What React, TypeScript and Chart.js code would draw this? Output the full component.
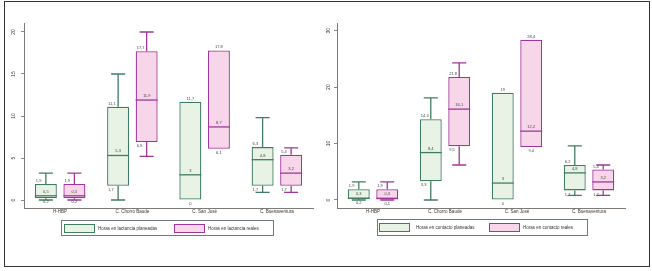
import React, { useEffect, useRef } from "react";
import { Chart, registerables } from "chart.js";

Chart.register(...registerables);

const categories = ["H-HBP", "C. Chorro Baude", "C. San José", "C. Buenaventura"];

// Left panel: lactancia
const lactPlanMin = [0, 0, 0, 0.9];
const lactPlanQ1 = [0.2, 1.7, 0, 1.7];
const lactPlanMed = [0.5, 5.3, 3, 4.8];
const lactPlanQ3 = [1.9, 11.1, 11.7, 6.3];
const lactPlanMax = [3.2, 15, 11.7, 9.8];

const lactRealMin = [0, 5.2, 6.1, 0.9];
const lactRealQ1 = [0.2, 6.9, 6.1, 1.7];
const lactRealMed = [0.5, 11.9, 8.7, 3.2];
const lactRealQ3 = [1.9, 17.7, 17.8, 5.4];
const lactRealMax = [3.2, 20, 17.8, 6.2];

// Right panel: contacto
const contPlanMin = [0, 0, 0, 0.8];
const contPlanQ1 = [0.2, 3.3, 0, 1.7];
const contPlanMed = [0.3, 8.4, 3, 4.8];
const contPlanQ3 = [1.9, 14.3, 19, 6.2];
const contPlanMax = [3.2, 18.1, 19, 9.6];

const contRealMin = [0, 6.2, 9.4, 0.8];
const contRealQ1 = [0.1, 9.5, 9.4, 1.7];
const contRealMed = [0.3, 16.1, 12.2, 3.2];
const contRealQ3 = [1.9, 21.8, 28.4, 5.4];
const contRealMax = [3.2, 24.3, 28.4, 6.2];

const leftTicks = [0, 5, 10, 15, 20];
const rightTicks = [0, 10, 20, 30];

const leftLegend = ["Horas en lactancia planeadas", "Horas en lactancia reales"];
const rightLegend = ["Horas en contacto planeadas", "Horas en contacto reales"];

const GREEN = "#3f7d62";
const GREEN_FILL = "#e9f3e5";
const PINK = "#a1369a";
const PINK_FILL = "#f8d6ea";
const FONT = "'Liberation Sans', Arial, sans-serif";

type Stat = { min: number[]; q1: number[]; med: number[]; q3: number[]; max: number[]; color: string; fill: string };

const fmt = (v: number) => String(v).replace(".", ",");

function makePlugin(stats: Stat[], ticks: number[], tickX: number) {
  return {
    id: "boxes",
    afterDatasetsDraw(chart: any) {
      const ctx = chart.ctx as CanvasRenderingContext2D;
      const ys = chart.scales.y;
      const xs = chart.scales.x;
      ctx.save();
      stats.forEach((s, di) => {
        const meta = chart.getDatasetMeta(di);
        meta.data.forEach((bar: any, i: number) => {
          const x = bar.x;
          const w = bar.width;
          const left = x - w / 2;
          const yq1 = ys.getPixelForValue(s.q1[i]);
          const yq3 = ys.getPixelForValue(s.q3[i]);
          const ymed = ys.getPixelForValue(s.med[i]);
          const ymin = ys.getPixelForValue(s.min[i]);
          const ymax = ys.getPixelForValue(s.max[i]);
          ctx.strokeStyle = s.color;
          ctx.lineWidth = 1.3;
          const cap = w * 0.32;
          if (s.max[i] > s.q3[i]) {
            ctx.beginPath();
            ctx.moveTo(x, yq3);
            ctx.lineTo(x, ymax);
            ctx.moveTo(x - cap, ymax);
            ctx.lineTo(x + cap, ymax);
            ctx.stroke();
          }
          if (s.min[i] < s.q1[i]) {
            ctx.beginPath();
            ctx.moveTo(x, yq1);
            ctx.lineTo(x, ymin);
            ctx.moveTo(x - cap, ymin);
            ctx.lineTo(x + cap, ymin);
            ctx.stroke();
          }
          ctx.beginPath();
          ctx.moveTo(left, ymed);
          ctx.lineTo(left + w, ymed);
          ctx.stroke();

          ctx.fillStyle = "#444";
          ctx.font = `4px ${FONT}`;
          ctx.textBaseline = "alphabetic";
          const topWh = s.max[i] > s.q3[i];
          const botWh = s.min[i] < s.q1[i] - 0.5;
          ctx.textAlign = topWh ? "left" : "center";
          ctx.fillText(fmt(s.q3[i]), topWh ? left + 1 : x, yq3 - 2);
          ctx.textAlign = "center";
          ctx.fillText(fmt(s.med[i]), x, ymed - 3);
          ctx.textAlign = botWh ? "left" : "center";
          ctx.textBaseline = "top";
          ctx.fillText(fmt(s.q1[i]), botWh ? left + 1 : x, yq1 + 2);
        });
      });
      // rotated y tick labels
      ctx.fillStyle = "#333";
      ctx.font = `5px ${FONT}`;
      ctx.textAlign = "center";
      ctx.textBaseline = "middle";
      ticks.forEach((t) => {
        const yy = ys.getPixelForValue(t);
        ctx.save();
        ctx.translate(tickX, yy);
        ctx.rotate(-Math.PI / 2);
        ctx.fillText(String(t), 0, 0);
        ctx.restore();
      });
      // category labels
      ctx.font = `4.5px ${FONT}`;
      ctx.textBaseline = "top";
      categories.forEach((c, i) => {
        ctx.fillText(c, xs.getPixelForValue(i), xs.top + 2);
      });
      ctx.restore();
    },
  };
}

type PanelProps = {
  left: number;
  stats: Stat[];
  ticks: number[];
  yMin: number;
  yMax: number;
  yWidth: number;
  padRight: number;
  tickX: number;
};

function Panel({ left, stats, ticks, yMin, yMax, yWidth, padRight, tickX }: PanelProps) {
  const ref = useRef<HTMLCanvasElement>(null);
  useEffect(() => {
    if (!ref.current) return;
    const chart = new Chart(ref.current, {
      type: "bar",
      data: {
        labels: categories,
        datasets: stats.map((s) => ({
          data: s.q1.map((v, i) => [v, s.q3[i]]),
          backgroundColor: s.fill,
          borderColor: s.color,
          borderWidth: 1.3,
          borderSkipped: false,
          categoryPercentage: 0.79,
          barPercentage: 0.77,
        })),
      },
      options: {
        responsive: false,
        animation: false,
        layout: { padding: { left: 0, right: padRight, top: 23, bottom: 51 } },
        plugins: { legend: { display: false }, tooltip: { enabled: false } },
        scales: {
          x: {
            afterFit: (sc: any) => {
              sc.height = 12;
            },
            grid: { display: false },
            border: { display: true, color: "#807a76", width: 1 },
            ticks: { display: false },
          },
          y: {
            min: yMin,
            max: yMax,
            afterFit: (sc: any) => {
              sc.width = yWidth;
            },
            afterBuildTicks: (sc: any) => {
              sc.ticks = ticks.map((v) => ({ value: v }));
            },
            grid: { display: true, drawOnChartArea: false, drawTicks: true, tickLength: 3, color: "#888" },
            border: { display: true, color: "#807a76", width: 1 },
            ticks: { display: false },
          },
        },
      },
      plugins: [makePlugin(stats, ticks, tickX)],
    } as any);
    return () => chart.destroy();
  }, []);
  return (
    <canvas
      ref={ref}
      width={326}
      height={271}
      style={{ position: "absolute", left, top: 0, width: 326, height: 271 }}
    />
  );
}

function Legend({ x, y, w, h, texts, items }: { x: number; y: number; w: number; h: number; texts: string[]; items: { sx: number; tx: number }[] }) {
  const colors = [
    [GREEN, GREEN_FILL],
    [PINK, PINK_FILL],
  ];
  return (
    <div
      style={{
        position: "absolute",
        left: x,
        top: y,
        width: w,
        height: h,
        boxSizing: "border-box",
        border: "1px solid #777",
      }}
    >
      {items.map((it, i) => (
        <React.Fragment key={i}>
          <div
            style={{
              position: "absolute",
              left: it.sx - x - 1,
              top: 3,
              width: 31,
              height: 9,
              boxSizing: "border-box",
              border: `1.5px solid ${colors[i][0]}`,
              background: colors[i][1],
            }}
          />
          <div
            style={{
              position: "absolute",
              left: it.tx - x - 1,
              top: 4,
              fontFamily: FONT,
              fontSize: 4.5,
              lineHeight: "7px",
              color: "#333",
              whiteSpace: "nowrap",
            }}
          >
            {texts[i]}
          </div>
        </React.Fragment>
      ))}
    </div>
  );
}

export default function App() {
  const leftStats: Stat[] = [
    { min: lactPlanMin, q1: lactPlanQ1, med: lactPlanMed, q3: lactPlanQ3, max: lactPlanMax, color: GREEN, fill: GREEN_FILL },
    { min: lactRealMin, q1: lactRealQ1, med: lactRealMed, q3: lactRealQ3, max: lactRealMax, color: PINK, fill: PINK_FILL },
  ];
  const rightStats: Stat[] = [
    { min: contPlanMin, q1: contPlanQ1, med: contPlanMed, q3: contPlanQ3, max: contPlanMax, color: GREEN, fill: GREEN_FILL },
    { min: contRealMin, q1: contRealQ1, med: contRealMed, q3: contRealQ3, max: contRealMax, color: PINK, fill: PINK_FILL },
  ];
  return (
    <div style={{ position: "fixed", left: 0, top: 0, width: 652, height: 271, background: "#fff" }}>
      <Panel left={0} stats={leftStats} ticks={leftTicks} yMin={-0.95} yMax={21.07} yWidth={24} padRight={13} tickX={14} />
      <Panel left={326} stats={rightStats} ticks={rightTicks} yMin={-1.42} yMax={31.36} yWidth={11} padRight={27} tickX={3} />
      <Legend x={61} y={220} w={213} h={16} texts={leftLegend} items={[{ sx: 64, tx: 98 }, { sx: 174, tx: 208 }]} />
      <Legend x={377} y={219} w={211} h={17} texts={rightLegend} items={[{ sx: 379, tx: 416 }, { sx: 489, tx: 523 }]} />
      <div
        style={{
          position: "absolute",
          left: 4,
          top: 1,
          width: 646,
          height: 266,
          boxSizing: "border-box",
          border: "1px solid #333",
          pointerEvents: "none",
        }}
      />
    </div>
  );
}
